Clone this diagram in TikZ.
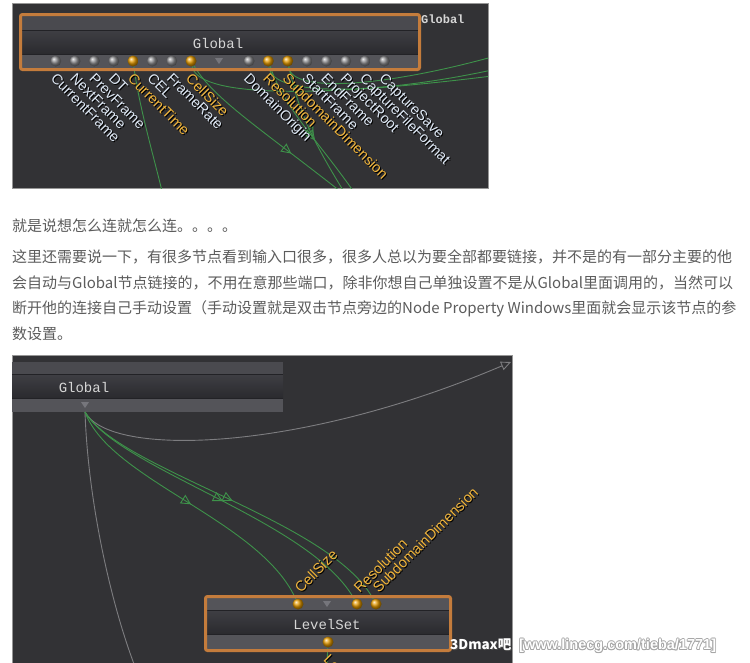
\documentclass[tikz,border=0pt]{standalone}
\usepackage{fontspec}
\setmainfont{Liberation Sans}
\newfontfamily\cjk{Noto Sans CJK SC}
\newfontfamily\monof{Liberation Mono}
\usetikzlibrary{arrows.meta,decorations.markings,shadings}
\pgfdeclarelayer{back}
\pgfdeclarelayer{wires}
\pgfsetlayers{back,wires,main}

\definecolor{bg}{RGB}{50,50,53}
\definecolor{bartop}{RGB}{74,74,79}
\definecolor{barport}{RGB}{84,84,89}
\definecolor{titletop}{RGB}{62,62,67}
\definecolor{titlebot}{RGB}{42,42,46}
\definecolor{sepc}{RGB}{34,34,38}
\definecolor{frameor}{RGB}{196,124,60}
\definecolor{wire}{RGB}{62,146,74}
\definecolor{greywire}{RGB}{125,125,128}
\definecolor{labl}{RGB}{222,232,245}
\definecolor{labo}{RGB}{242,182,60}
\definecolor{portg}{RGB}{140,140,143}
\definecolor{porto}{RGB}{230,155,0}
\definecolor{txt}{RGB}{92,92,92}
\definecolor{tric}{RGB}{118,118,124}
\definecolor{titletxt}{RGB}{214,214,214}
\definecolor{framegray}{RGB}{150,150,150}

\newcommand\plabel[6]{%
  \node[#2, text=black] (#1s) at ([shift={(1pt,-1pt)}]#3,#4) {#6};
  \node[#2, text=#5] (#1) at (#3,#4) {#6};}

\tikzset{
  plab/.style={font=\fontsize{14.5}{14.5}\selectfont, inner sep=0pt},
  downlab/.style={plab, anchor=north west, rotate=-45},
  uplab/.style={plab, anchor=south west, rotate=45},
  gport/.style={circle, inner sep=0pt, minimum size=11pt, ball color=portg},
  oport/.style={circle, inner sep=0pt, minimum size=11pt, ball color=porto},
  ntitle/.style={font=\monof\fontsize{14}{14}\selectfont, text=titletxt, inner sep=0pt},
  wirearrow/.style={decoration={markings, mark=at position #1 with {\arrow{Triangle[open,length=10pt,width=10pt]}}}, postaction={decorate}},
  tline/.style={font=\cjk\fontsize{15}{15}\selectfont, text=txt, anchor=base west, inner sep=0pt},
  wmark/.style={font=\fontsize{14.5}{14.5}\selectfont\bfseries, anchor=west, inner sep=0pt},
  wire/.style={draw=wirec, line width=0.9pt},
  gwire/.style={draw=greywire, line width=0.9pt},
}
\colorlet{wirec}{wire}

\begin{document}
\begin{tikzpicture}[x=1pt,y=-1pt]
\useasboundingbox (0,0) rectangle (750,662);

% ================= TOP SCREENSHOT =================
\begin{pgfonlayer}{back}
\fill[white] (0,0) rectangle (750,662);
\fill[bg] (12,3) rectangle (488,188);
\draw[framegray, line width=0.8pt] (12,3) rectangle (488,188);
\fill[bartop] (21,16) rectangle (419,30);
\fill[sepc] (21,30) rectangle (419,31);
\shade[top color=titletop, bottom color=titlebot] (21,31) rectangle (419,54);
\fill[sepc] (21,54) rectangle (419,55);
\fill[barport] (21,55) rectangle (419,68);
\end{pgfonlayer}
\draw[frameor, line width=3pt, rounded corners=2pt] (20.5,14.5) rectangle (419.5,69.5);
\node[ntitle] (gtitle) at (218,43) {Global};
\node[font=\monof\bfseries\fontsize{12}{12}\selectfont, text=titletxt, anchor=west, inner sep=0pt] (gname) at (421,19) {Global};
\fill[tric] (215,58) -- (223,58) -- (219,64) -- cycle;

\foreach \n/\x in {1/55.7,2/75,3/94.3,4/113.7,6/152.3,7/171.7,9/249,12/307,13/326.3,14/345.7,15/365,16/384.3}
  \node[gport] (p\n) at (\x,61) {};
\foreach \n/\x in {5/133,8/191,10/268.3,11/287.7}
  \node[oport] (p\n) at (\x,61) {};

\begin{pgfonlayer}{wires}
\begin{scope}
\clip (12,3) rectangle (488,188);
\draw[wire] (p5) .. controls (140,110) and (152,150) .. (163,195);
\draw[wire, wirearrow=0.66] (p8) .. controls (215,100) and (260,128) .. (345,195);
\draw[wire, wirearrow=0.56] (p10) .. controls (285,110) and (318,140) .. (356,195);
\draw[wire, wirearrow=0.53] (p11) .. controls (298,110) and (312,140) .. (346,195);
\draw[wire] (p11) .. controls (292,95) and (390,85) .. (492,57);
\draw[wire] (p10) .. controls (272,100) and (390,92) .. (492,70);
\draw[wire] (p8) .. controls (198,95) and (300,100) .. (492,76);
\end{scope}
\end{pgfonlayer}

\plabel{l1}{downlab}{57.2}{72}{labl}{CurrentFrame}
\plabel{l2}{downlab}{76.5}{72}{labl}{NextFrame}
\plabel{l3}{downlab}{95.8}{72}{labl}{PrevFrame}
\plabel{l4}{downlab}{115.2}{72}{labl}{DT}
\plabel{l5}{downlab}{134.5}{72}{labo}{CurrentTime}
\plabel{l6}{downlab}{153.8}{72}{labl}{CEL}
\plabel{l7}{downlab}{173.2}{72}{labl}{FrameRate}
\plabel{l8}{downlab}{192.5}{72}{labo}{CellSize}
\plabel{l9}{downlab}{250.5}{72}{labl}{DomainOrigin}
\plabel{l10}{downlab}{269.8}{72}{labo}{Resolution}
\plabel{l11}{downlab}{289.2}{72}{labo}{SubdomainDimension}
\plabel{l12}{downlab}{308.5}{72}{labl}{StartFrame}
\plabel{l13}{downlab}{327.8}{72}{labl}{EndFrame}
\plabel{l14}{downlab}{347.2}{72}{labl}{ProjectRoot}
\plabel{l15}{downlab}{366.5}{72}{labl}{CaptureFileFormat}
\plabel{l16}{downlab}{385.8}{72}{labl}{CaptureSave}

% ================= TEXT =================
\node[tline] (t1) at (12,231) {就是说想怎么连就怎么连。。。。};
\node[tline] (t2) at (12,262) {这里还需要说一下，有很多节点看到输入口很多，很多人总以为要全部都要链接，并不是的有一部分主要的他};
\node[tline] (t3) at (12,288) {会自动与Global节点链接的，不用在意那些端口，除非你想自己单独设置不是从Global里面调用的，当然可以};
\node[tline] (t4) at (12,313) {断开他的连接自己手动设置（手动设置就是双击节点旁边的Node Property Windows里面就会显示该节点的参};
\node[tline] (t5) at (12,339) {数设置。};

% ================= BOTTOM SCREENSHOT =================
\begin{pgfonlayer}{back}
\fill[bg] (12,355) rectangle (512,664);
\draw[framegray, line width=0.8pt] (12,355) rectangle (512,664);
% Global node (bottom)
\fill[bartop] (12,362) rectangle (283,374);
\fill[sepc] (12,374) rectangle (283,375);
\shade[top color=titletop, bottom color=titlebot] (12,375) rectangle (283,398);
\fill[sepc] (12,398) rectangle (283,399);
\fill[barport] (12,399) rectangle (283,412);
% LevelSet node
\fill[barport] (206,598) rectangle (450,610);
\fill[sepc] (206,610) rectangle (450,611);
\shade[top color=titletop, bottom color=titlebot] (206,611) rectangle (450,634);
\fill[sepc] (206,634) rectangle (450,635);
\fill[barport] (206,635) rectangle (450,649);
\end{pgfonlayer}
\node[ntitle] (btitle) at (84,387) {Global};
\fill[tric] (81,402) -- (89,402) -- (85,408) -- cycle;
\coordinate (gout) at (85,412);
\coordinate (gend) at (511,362);
\coordinate (gdown) at (134,664);

\draw[frameor, line width=3pt, rounded corners=2pt] (205.5,596.5) rectangle (450.5,650.5);
\node[ntitle] (lstitle) at (327,624) {LevelSet};
\fill[tric] (323,601) -- (331,601) -- (327,607) -- cycle;
\node[oport] (ls1) at (298,604) {};
\node[oport] (ls2) at (357,604) {};
\node[oport] (ls3) at (376,604) {};
\node[oport] (lsout) at (328,642) {};
\coordinate (lsdown) at (327,664);

\begin{pgfonlayer}{wires}
\draw[gwire, -{Triangle[open,length=10pt,width=9pt]}] (gout) .. controls (110,458) and (300,452) .. (gend);
\draw[gwire] (gout) .. controls (88,500) and (110,600) .. (gdown);
\draw[wire, wirearrow=0.5] (gout) .. controls (110,480) and (260,520) .. (ls1);
\draw[wire, wirearrow=0.5] (gout) .. controls (120,470) and (310,520) .. (ls2);
\draw[wire, wirearrow=0.5] (gout) .. controls (120,470) and (330,520) .. (ls3);
\draw[wire] (lsout) -- (lsdown);
\end{pgfonlayer}

\plabel{b1}{uplab}{301}{594}{labo}{CellSize}
\plabel{b2}{uplab}{360}{594}{labo}{Resolution}
\plabel{b3}{uplab}{379}{594}{labo}{SubdomainDimension}
\plabel{b4}{downlab}{330}{653}{labo}{Le}

% ================= WATERMARK =================
\node[font=\cjk\bfseries\fontsize{13.5}{13.5}\selectfont, text=black!70, anchor=west, inner sep=0pt] (wm1s) at (450.8,645.8) {3Dmax吧};
\node[font=\cjk\bfseries\fontsize{13.5}{13.5}\selectfont, text=white, anchor=west, inner sep=0pt] (wm1) at (450,645) {3Dmax吧};
\foreach \dx/\dy [count=\i] in {0.8/0,-0.8/0,0/0.8,0/-0.8,0.6/0.6,-0.6/0.6,0.6/-0.6,-0.6/-0.6}
  \node[wmark, text=black!35] (wmo\i) at ([shift={(\dx pt,\dy pt)}]519,646) {[www.linecg.com/tieba/1771]};
\node[wmark, text=white] (wm2) at (519,646) {[www.linecg.com/tieba/1771]};
\end{tikzpicture}
\end{document}
